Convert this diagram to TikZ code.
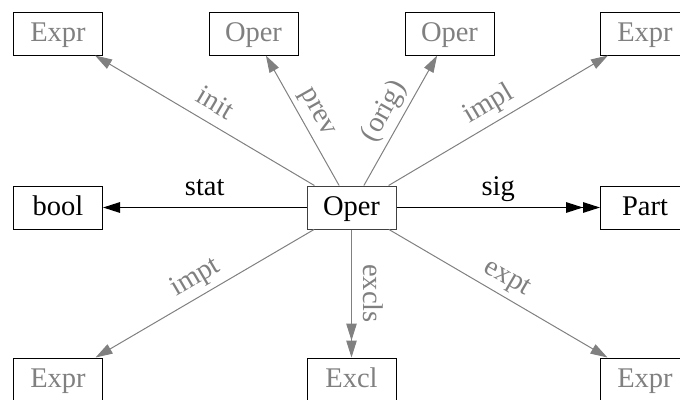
\documentclass[tikz,border=0pt]{standalone}
\usepackage{fontspec}
\setmainfont{Liberation Serif}
\usetikzlibrary{arrows.meta}
\definecolor{lg}{HTML}{808080}
\tikzset{
  bigfont/.style={font=\fontsize{28.5pt}{32pt}\selectfont},
  box/.style={draw=black, line width=1pt, minimum width=89pt, minimum height=43pt,
    inner sep=0pt, text height=21pt, text depth=5pt, bigfont},
  dim/.style={box, text=lg},
  mainbox/.style={box, draw=black!75},
  tipa/.tip={Triangle[length=17pt,width=10.5pt]},
  garrow/.style={draw=lg, line width=1pt, -{tipa}},
  gdouble/.style={draw=lg, line width=1pt, -{tipa[sep=0pt]tipa}},
  barrow/.style={draw=black, line width=1.3pt, -{tipa}},
  bdouble/.style={draw=black, line width=1.3pt, -{tipa[sep=0pt]tipa}},
  lblbase/.style={bigfont, text=lg, inner sep=5pt, text height=20pt, text depth=6pt},
  lbl/.style={lblbase, midway, sloped, above},
  blbl/.style={lbl, text=black},
}
\begin{document}
\begin{tikzpicture}[x=1pt,y=-1pt]
  \useasboundingbox (0,0) rectangle (680,399);
  \clip (0,0) rectangle (680,399);
  \node[dim] (e1) at (58,33.5) {Expr};
  \node[dim] (o2) at (253.5,33.5) {Oper};
  \node[dim] (o3) at (449.5,33.5) {Oper};
  \node[dim] (e4) at (645,33.5) {Expr};
  \node[box] (bool) at (58,207.5) {bool};
  \node[mainbox] (op) at (351.5,207.5) {Oper};
  \node[box] (part) at (645,207.5) {Part};
  \node[dim] (e5) at (58,379.5) {Expr};
  \node[dim] (excl) at (351.5,379.5) {Excl};
  \node[dim] (e6) at (645,379.5) {Expr};

  \draw[garrow] (op) -- node[lbl] {init} (e1);
  \draw[garrow] (op) -- node[lbl] {prev} (o2);
  \draw[garrow] (op) -- node[lbl] {(orig)} (o3);
  \draw[garrow] (op) -- node[lbl] {impl} (e4);
  \draw[barrow] (op) -- node[blbl] {stat} (bool);
  \draw[bdouble] (op) -- node[blbl] {sig} (part);
  \draw[garrow] (op) -- node[lbl] {impt} (e5);
  \draw[gdouble] (op) -- node[lblbase, midway, rotate=-90, anchor=south] {excls} (excl);
  \draw[garrow] (op) -- node[lbl] {expt} (e6);
\end{tikzpicture}
\end{document}
